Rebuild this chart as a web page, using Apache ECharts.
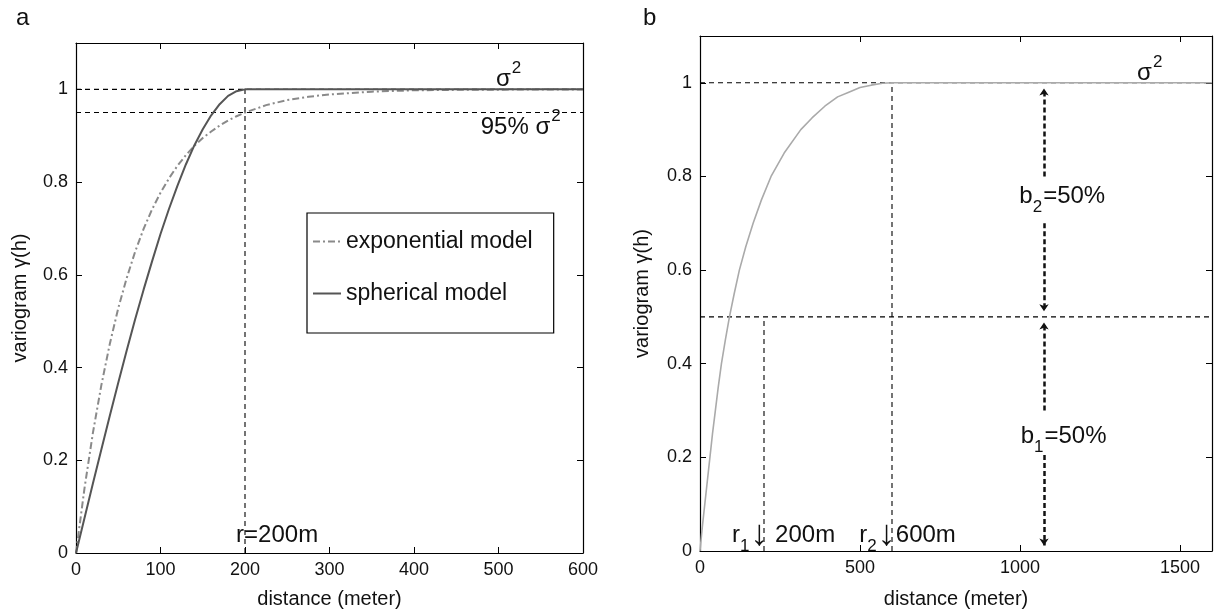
<!DOCTYPE html>
<html>
<head>
<meta charset="utf-8">
<script src="https://cdn.jsdelivr.net/npm/echarts@6/dist/echarts.min.js"></script>
<style>
  html, body { margin: 0; padding: 0; background: #ffffff; }
  #chart { width: 1219px; height: 614px; }
</style>
</head>
<body>
<div id="chart"></div>
<script>
// ---- Panel a: exponential vs spherical variogram, range 200 m ----
const distanceA = [0, 10, 20, 30, 40, 50, 60, 70, 80, 90, 100, 110, 120, 130, 140, 150, 160, 170, 180, 190, 200,
                   225, 250, 275, 300, 350, 400, 450, 500, 550, 600];
const sphericalA = [0, 0.075, 0.150, 0.223, 0.296, 0.367, 0.437, 0.504, 0.568, 0.629, 0.688, 0.742, 0.792, 0.838,
                    0.879, 0.914, 0.944, 0.968, 0.986, 0.996, 1.0,
                    1.0, 1.0, 1.0, 1.0, 1.0, 1.0, 1.0, 1.0, 1.0, 1.0];
const exponentialA = [0, 0.139, 0.259, 0.362, 0.451, 0.528, 0.593, 0.650, 0.699, 0.741, 0.777, 0.808, 0.835, 0.858,
                      0.878, 0.895, 0.909, 0.922, 0.933, 0.942, 0.950,
                      0.966, 0.977, 0.984, 0.989, 0.995, 0.998, 0.999, 0.9994, 0.9997, 0.9999];
const sillA = 1;
const sill95A = 0.95;
const rangeA = 200;
const xTicksA = [0, 100, 200, 300, 400, 500, 600];

// ---- Panel b: nested structure with two ranges ----
const distanceB = [0, 7, 15, 23, 31, 39, 48, 57, 67, 79, 92, 107, 123, 143, 166, 192, 222, 263, 315, 350, 390,
                   430, 465, 500, 535, 570, 600, 1600];
const nestedB   = [0, 0.05, 0.1, 0.15, 0.2, 0.25, 0.3, 0.35, 0.4, 0.45, 0.5, 0.55, 0.6, 0.65, 0.7, 0.75, 0.8,
                   0.85, 0.9, 0.925, 0.95, 0.97, 0.98, 0.99, 0.995, 0.999, 1.0, 1.0];
const sillB = 1;
const partialSillB1 = 0.5;
const rangeB1 = 200;
const rangeB2 = 600;
const arrowDistanceB = 1075;
const xTicksB = [0, 500, 1000, 1500];
const xMaxB = 1600;

const yTicks = [0, 0.2, 0.4, 0.6, 0.8, 1];
const yMax = 1.1;

const FONT = '"Liberation Sans", Arial, Helvetica, sans-serif';
const TXT = '#111';

const chart = echarts.init(document.getElementById('chart'), null, { renderer: 'canvas' });

function fmtY(v) {
  if (v > 1.05) return '';
  return String(Number(v.toFixed(1)));
}

function axisPair(gridIndex, min, max, interval, showLabels, position, fmt, name, nameGap) {
  return {
    type: 'value', gridIndex, position, min, max, interval,
    name: name || '', nameLocation: 'middle', nameGap: nameGap || 0,
    nameTextStyle: { fontSize: 20, color: TXT, fontFamily: FONT },
    axisLine: { show: true, onZero: false, lineStyle: { color: '#000', width: 1.2 } },
    axisTick: { show: true, inside: true, length: 6, lineStyle: { color: '#000', width: 1 } },
    axisLabel: { show: showLabels, fontSize: 18, color: TXT, fontFamily: FONT, margin: 8, formatter: fmt },
    splitLine: { show: false }
  };
}

function dashed(xi, pts) {
  return {
    type: 'line', xAxisIndex: xi, yAxisIndex: xi, data: pts, symbol: 'none', silent: true,
    lineStyle: { color: '#000', width: 1.1, type: [5, 4] }, z: 2
  };
}

const rich = {
  m:   { fontSize: 24, color: TXT, fontFamily: FONT },
  arr: { fontSize: 36, color: TXT, fontFamily: FONT },
  sup: { fontSize: 17, color: TXT, fontFamily: FONT, padding: [0, 0, 22, 1] },
  sub: { fontSize: 17, color: TXT, fontFamily: FONT, padding: [22, 1, 0, 0] }
};

function textAt(xi, pt, text, align) {
  return {
    type: 'scatter', xAxisIndex: xi, yAxisIndex: xi, data: [pt], symbolSize: 0, silent: true, z: 10,
    itemStyle: { opacity: 1 },
    label: {
      show: true, position: 'inside', align: align || 'left', verticalAlign: 'middle', opacity: 1,
      formatter: text, rich, fontSize: 24, color: TXT, fontFamily: FONT
    }
  };
}

const fmtXA = v => (xTicksA.indexOf(v) >= 0 ? String(v) : '');
const fmtXB = v => (xTicksB.indexOf(v) >= 0 ? String(v) : '');

const option = {
  animation: false,
  backgroundColor: '#ffffff',
  textStyle: { fontFamily: FONT },
  title: [
    { text: 'a', left: 11, top: 1, textStyle: { fontSize: 24, fontWeight: 'normal', color: TXT, fontFamily: FONT } },
    { text: 'b', left: 638, top: 1, textStyle: { fontSize: 24, fontWeight: 'normal', color: TXT, fontFamily: FONT } }
  ],
  legend: {
    data: ['exponential model', 'spherical model'],
    orient: 'vertical', left: 307, top: 213,
    padding: [17, 21, 28, 5], itemGap: 29, itemWidth: 28, itemHeight: 14,
    borderColor: '#000', borderWidth: 1.2, backgroundColor: '#fff',
    selectedMode: false,
    itemStyle: { opacity: 0 },
    textStyle: { fontSize: 23, color: TXT, fontFamily: FONT }
  },
  grid: [
    { left: 76, top: 43, width: 507, height: 510, containLabel: false },
    { left: 700, top: 36, width: 512, height: 515, containLabel: false }
  ],
  xAxis: [
    axisPair(0, 0, xTicksA[xTicksA.length - 1], xTicksA[1] - xTicksA[0], true, 'bottom', fmtXA, 'distance (meter)', 36),
    axisPair(0, 0, xTicksA[xTicksA.length - 1], xTicksA[1] - xTicksA[0], false, 'top'),
    axisPair(1, 0, xMaxB, xTicksB[1] - xTicksB[0], true, 'bottom', fmtXB, 'distance (meter)', 38),
    axisPair(1, 0, xMaxB, xTicksB[1] - xTicksB[0], false, 'top')
  ],
  yAxis: [
    axisPair(0, 0, yMax, yTicks[1] - yTicks[0], true, 'left', fmtY, 'variogram γ(h)', 46),
    axisPair(0, 0, yMax, yTicks[1] - yTicks[0], false, 'right'),
    axisPair(1, 0, yMax, yTicks[1] - yTicks[0], true, 'left', fmtY, 'variogram γ(h)', 48),
    axisPair(1, 0, yMax, yTicks[1] - yTicks[0], false, 'right')
  ],
  series: [
    // panel a reference lines
    dashed(0, [[0, sillA], [xTicksA[xTicksA.length - 1], sillA]]),
    dashed(0, [[0, sill95A], [xTicksA[xTicksA.length - 1], sill95A]]),
    dashed(0, [[rangeA, 0], [rangeA, sillA]]),
    {
      name: 'exponential model', type: 'line', xAxisIndex: 0, yAxisIndex: 0,
      data: distanceA.map((d, i) => [d, exponentialA[i]]),
      symbol: 'none', z: 4,
      lineStyle: { color: '#8a8a8a', width: 2, type: [7, 3, 2, 3] },
      itemStyle: { color: '#8a8a8a' }
    },
    {
      name: 'spherical model', type: 'line', xAxisIndex: 0, yAxisIndex: 0,
      data: distanceA.map((d, i) => [d, sphericalA[i]]),
      symbol: 'none', z: 5,
      lineStyle: { color: '#555555', width: 2 },
      itemStyle: { color: '#555555' }
    },
    textAt(0, [497, 1.021], '{m|σ}{sup|2}'),
    textAt(0, [479, 0.918], '{m|95% σ}{sup|2}'),
    textAt(0, [238, 0.039], 'r=200m', 'center'),

    // panel b reference lines
    dashed(2, [[0, sillB], [xMaxB, sillB]]),
    dashed(2, [[0, partialSillB1], [xMaxB, partialSillB1]]),
    dashed(2, [[rangeB1, 0], [rangeB1, partialSillB1]]),
    dashed(2, [[rangeB2, 0], [rangeB2, sillB]]),
    {
      name: 'nested model', type: 'line', xAxisIndex: 2, yAxisIndex: 2,
      data: distanceB.map((d, i) => [d, nestedB[i]]),
      symbol: 'none', z: 4,
      lineStyle: { color: '#aaaaaa', width: 1.6 }
    },
    {
      name: 'sill arrows', type: 'line', xAxisIndex: 2, yAxisIndex: 2, data: [], silent: true,
      markLine: {
        silent: true, symbol: ['none', 'arrow'], symbolSize: 7,
        label: { show: false },
        lineStyle: { color: '#111', width: 2.5, type: [5, 3] },
        emphasis: { disabled: true },
        data: [
          [{ coord: [arrowDistanceB, 0.80] }, { coord: [arrowDistanceB, sillB - 0.012] }],
          [{ coord: [arrowDistanceB, 0.70] }, { coord: [arrowDistanceB, partialSillB1 + 0.012] }],
          [{ coord: [arrowDistanceB, 0.30] }, { coord: [arrowDistanceB, partialSillB1 - 0.012] }],
          [{ coord: [arrowDistanceB, 0.205] }, { coord: [arrowDistanceB, 0.012] }]
        ]
      }
    },
    textAt(2, [1366, 1.021], '{m|σ}{sup|2}'),
    textAt(2, [998, 0.757], '{m|b}{sub|2}{m|=50%}'),
    textAt(2, [1002, 0.245], '{m|b}{sub|1}{m|=50%}'),
    textAt(2, [100, 0.034], '{m|r}{sub|1}{arr|↓}{m| 200m}'),
    textAt(2, [498, 0.034], '{m|r}{sub|2}{arr|↓}{m|600m}')
  ]
};

chart.setOption(option);
</script>
</body>
</html>
